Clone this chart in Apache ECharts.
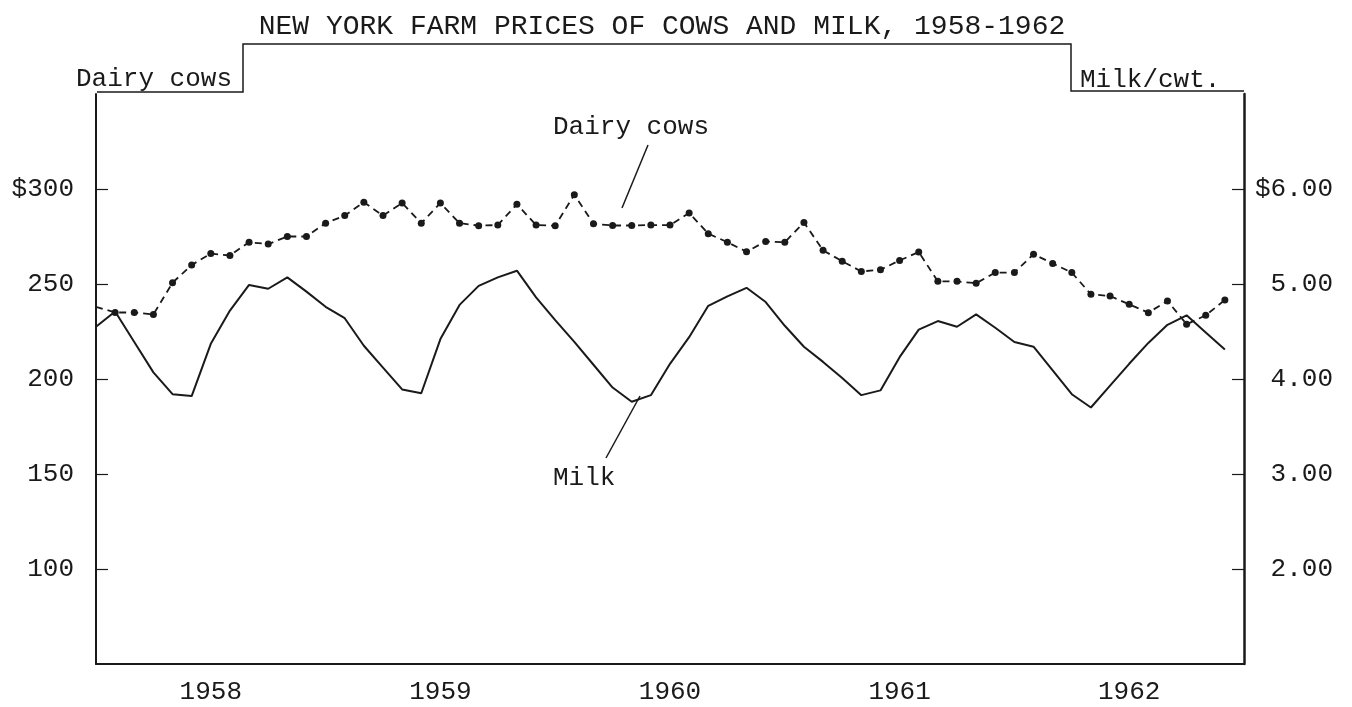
<!DOCTYPE html>
<html>
<head>
<meta charset="utf-8">
<script src="https://cdn.jsdelivr.net/npm/echarts@6/dist/echarts.min.js"></script>
<style>
html,body{margin:0;padding:0;background:#fff;}
#chart{width:1352px;height:707px;}
</style>
</head>
<body>
<div id="chart"></div>
<script>
// ---- data (monthly, Jan 1958 .. Dec 1962) ----
const years = ['1958', '1959', '1960', '1961', '1962'];
const cowTicks = [100, 150, 200, 250, 300];
const milkTicks = [2, 3, 4, 5, 6];
// Dairy cows, $ per head (left axis)
const cows = [238, 235, 235, 234, 250.7, 260, 266, 265, 272, 271, 275, 275,
  282, 286, 293, 286, 292.6, 282, 292.6, 282, 280.7, 281, 292, 281,
  280.7, 297, 281.7, 280.8, 280.8, 281, 281, 287.4, 276.5, 272, 267, 272.4,
  272, 282.4, 267.7, 262, 256.6, 257.5, 262.4, 266.8, 251.4, 251.4, 250.4, 256,
  256, 265.7, 260.8, 256, 244.6, 243.7, 239.3, 234.9, 241.1, 228.8, 233.5, 241.6];
// Milk, $ per cwt (right axis)
const milk = [4.55, 4.71, 4.39, 4.07, 3.84, 3.82, 4.37, 4.72, 4.99, 4.95, 5.07, 4.92,
  4.76, 4.64, 4.35, 4.12, 3.89, 3.85, 4.42, 4.78, 4.98, 5.07, 5.14, 4.86,
  4.62, 4.39, 4.15, 3.91, 3.76, 3.83, 4.16, 4.44, 4.77, 4.87, 4.96, 4.81,
  4.56, 4.34, 4.18, 4.01, 3.83, 3.88, 4.23, 4.52, 4.61, 4.55, 4.68, 4.54,
  4.39, 4.34, 4.09, 3.84, 3.70, 3.93, 4.16, 4.38, 4.57, 4.67, 4.49, 4.31];

const FONT = '"Liberation Mono", "DejaVu Sans Mono", monospace';
const INK = '#1a1a1a';

const cowData = cows.map((v, i) => i === 0 ? { value: [i, v], symbol: 'none' } : [i, v]);
const milkData = milk.map((v, i) => [i, v]);

const chart = echarts.init(document.getElementById('chart'), null, { renderer: 'canvas' });
chart.setOption({
  backgroundColor: '#ffffff',
  animation: false,
  title: {
    text: 'NEW YORK FARM PRICES OF COWS AND MILK, 1958-1962',
    left: 657, top: 8, textAlign: 'center',
    textStyle: { fontFamily: FONT, fontSize: 28, fontWeight: 'normal', color: INK }
  },
  grid: { left: 96, right: 108, top: 94, bottom: 43, containLabel: false },
  xAxis: [
    {
      type: 'category', data: years, boundaryGap: true, position: 'bottom',
      axisLine: { lineStyle: { color: INK, width: 2 } },
      axisTick: { inside: true, length: 14, interval: 0, lineStyle: { color: INK, width: 1.2 } },
      axisLabel: { fontFamily: FONT, fontSize: 26, color: INK, margin: 15 },
      splitLine: { show: false }
    },
    { type: 'value', min: 0, max: 60, show: false }
  ],
  yAxis: [
    {
      type: 'value', min: 50, max: 350, interval: 50, position: 'left',
      axisLine: { show: true, lineStyle: { color: INK, width: 2 } },
      axisTick: { show: true, inside: true, length: 12, customValues: cowTicks, lineStyle: { color: INK, width: 1.2 } },
      axisLabel: {
        customValues: cowTicks, fontFamily: FONT, fontSize: 26, color: INK, margin: 22,
        formatter: v => (v === 300 ? '$' : '') + v
      },
      splitLine: { show: false }
    },
    {
      type: 'value', min: 1, max: 7, interval: 1, position: 'right',
      axisLine: { show: true, lineStyle: { color: INK, width: 2.5 } },
      axisTick: { show: true, inside: true, length: 12, customValues: milkTicks, lineStyle: { color: INK, width: 1.2 } },
      axisLabel: {
        customValues: milkTicks, fontFamily: FONT, fontSize: 26, color: INK, margin: 89, align: 'right',
        formatter: v => (v === 6 ? '$' : '') + v.toFixed(2)
      },
      splitLine: { show: false }
    }
  ],
  series: [
    {
      name: 'Dairy cows', type: 'line', xAxisIndex: 1, yAxisIndex: 0, data: cowData,
      symbol: 'circle', symbolSize: 7, showSymbol: true,
      itemStyle: { color: INK },
      lineStyle: { color: INK, width: 1.8, type: [7, 5] }
    },
    {
      name: 'Milk', type: 'line', xAxisIndex: 1, yAxisIndex: 1, data: milkData,
      symbol: 'none',
      lineStyle: { color: INK, width: 2 }
    }
  ],
  graphic: [
    { type: 'polyline', shape: { points: [[97, 92], [243, 92], [243, 44], [1071, 44], [1071, 91], [1244, 91]] },
      style: { stroke: INK, lineWidth: 1.5, fill: null } },
    { type: 'text', x: 76, y: 79, style: { text: 'Dairy cows', fontFamily: FONT, fontSize: 26, fill: INK, textVerticalAlign: 'middle' } },
    { type: 'text', x: 1080, y: 80, style: { text: 'Milk/cwt.', fontFamily: FONT, fontSize: 26, fill: INK, textVerticalAlign: 'middle' } },
    { type: 'text', x: 553, y: 127, style: { text: 'Dairy cows', fontFamily: FONT, fontSize: 26, fill: INK, textVerticalAlign: 'middle' } },
    { type: 'line', shape: { x1: 648, y1: 145, x2: 622, y2: 208 }, style: { stroke: INK, lineWidth: 1.5 } },
    { type: 'text', x: 553, y: 478, style: { text: 'Milk', fontFamily: FONT, fontSize: 26, fill: INK, textVerticalAlign: 'middle' } },
    { type: 'line', shape: { x1: 640, y1: 396, x2: 606, y2: 458 }, style: { stroke: INK, lineWidth: 1.5 } }
  ]
});
</script>
</body>
</html>
